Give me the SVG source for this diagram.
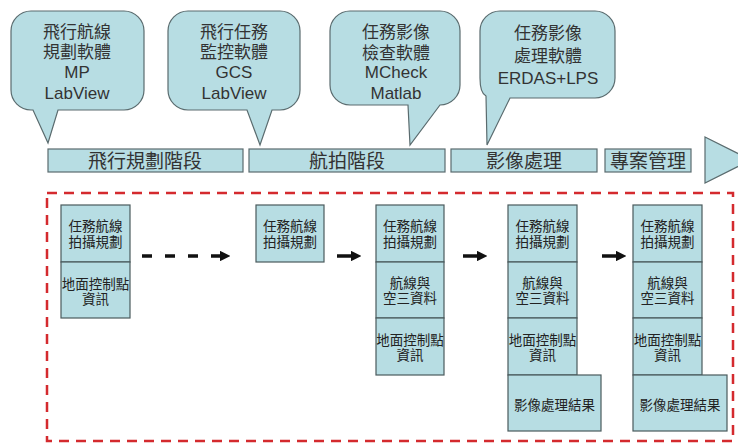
<svg xmlns="http://www.w3.org/2000/svg" width="738" height="443" viewBox="0 0 738 443">
<style>
.bub{fill:#b7dde3;stroke:#5a6b6e;stroke-width:1.2}
.bar{fill:#b7dde3;stroke:#5a6b6e;stroke-width:1.2}
.box{fill:#b7dde3;stroke:#4a5a5c;stroke-width:1.2}
.t{font-family:"Liberation Sans","Noto Sans CJK TC",sans-serif;fill:#2a2a2a;text-anchor:middle}
.ct{font-size:17px;fill:#333}
.pt{font-size:19px;fill:#333}
.st{font-size:13.5px;fill:#222}
.arr{stroke:#111;stroke-width:3.5;fill:none}
</style>
<defs>
<marker id="ah" viewBox="0 0 10 10" refX="2" refY="5" markerWidth="3" markerHeight="3" orient="auto" markerUnits="strokeWidth">
<path d="M0,0 L10,5 L0,10 Z" fill="#111"/>
</marker>
</defs>
<rect width="738" height="443" fill="#ffffff"/>

<g id="callout1">
<path class="bub" d="M31,11 H124 A20,20 0 0 1 144,31 V90 A20,20 0 0 1 124,110 H58 L48,143 L33,110 H31 A20,20 0 0 1 11,90 V31 A20,20 0 0 1 31,11 Z"/>
<text class="t ct" x="77" y="38">飛行航線</text>
<text class="t ct" x="77" y="58">規劃軟體</text>
<text class="t ct" x="77" y="78">MP</text>
<text class="t ct" x="77" y="99">LabView</text>
</g>
<g id="callout2">
<path class="bub" d="M188,11 H280 A20,20 0 0 1 300,31 V90 A20,20 0 0 1 280,110 H272 L260,145 L247,110 H188 A20,20 0 0 1 168,90 V31 A20,20 0 0 1 188,11 Z"/>
<text class="t ct" x="234" y="38">飛行任務</text>
<text class="t ct" x="234" y="58">監控軟體</text>
<text class="t ct" x="234" y="78">GCS</text>
<text class="t ct" x="234" y="99">LabView</text>
</g>
<g id="callout3">
<path class="bub" d="M350,11 H440 A20,20 0 0 1 460,31 V85 A20,20 0 0 1 440,105 L410,145 L408,105 H350 A20,20 0 0 1 330,85 V31 A20,20 0 0 1 350,11 Z"/>
<text class="t ct" x="396" y="38">任務影像</text>
<text class="t ct" x="396" y="59">檢查軟體</text>
<text class="t ct" x="396" y="78">MCheck</text>
<text class="t ct" x="396" y="99">Matlab</text>
</g>
<g id="callout4">
<path class="bub" d="M500,11 H595 A20,20 0 0 1 615,31 V78 A20,20 0 0 1 595,98 H510 L487,145 L486,96 Q480,93 480,78 V31 A20,20 0 0 1 500,11 Z"/>
<text class="t ct" x="548" y="39">任務影像</text>
<text class="t ct" x="548" y="62">處理軟體</text>
<text class="t ct" x="548" y="84">ERDAS+LPS</text>
</g>

<g id="phase1"><rect class="bar" x="48" y="149" width="195" height="23"/><text class="t pt" x="145" y="168">飛行規劃階段</text></g>
<g id="phase2"><rect class="bar" x="249" y="149" width="196" height="23"/><text class="t pt" x="347" y="168">航拍階段</text></g>
<g id="phase3"><rect class="bar" x="451" y="149" width="146" height="23"/><text class="t pt" x="524" y="168">影像處理</text></g>
<g id="phase4"><rect class="bar" x="605" y="149" width="86" height="23"/><text class="t pt" x="648" y="168">專案管理</text></g>
<g id="timeline-arrow"><polygon class="bar" points="705,137 751,160 705,183"/></g>

<g id="frame"><rect x="47" y="193" width="686" height="248" fill="none" stroke="#d42a2e" stroke-width="2.5" stroke-dasharray="10 7"/></g>

<g id="col1">
<rect class="box" x="61" y="205" width="69" height="57"/>
<text class="t st" x="95.5" y="231">任務航線</text><text class="t st" x="95.5" y="247">拍攝規劃</text>
<rect class="box" x="61" y="262" width="69" height="56"/>
<text class="t st" x="95.5" y="289">地面控制點</text><text class="t st" x="95.5" y="304">資訊</text>
</g>
<g id="col2">
<rect class="box" x="256" y="205" width="68" height="57"/>
<text class="t st" x="290" y="231">任務航線</text><text class="t st" x="290" y="247">拍攝規劃</text>
</g>
<g id="col3">
<rect class="box" x="376" y="205" width="68" height="57"/>
<text class="t st" x="410" y="231">任務航線</text><text class="t st" x="410" y="247">拍攝規劃</text>
<rect class="box" x="376" y="262" width="68" height="56"/>
<text class="t st" x="410" y="288">航線與</text><text class="t st" x="410" y="303">空三資料</text>
<rect class="box" x="376" y="318" width="68" height="57"/>
<text class="t st" x="410" y="345">地面控制點</text><text class="t st" x="410" y="360">資訊</text>
</g>
<g id="col4">
<rect class="box" x="508" y="205" width="69" height="57"/>
<text class="t st" x="542.5" y="231">任務航線</text><text class="t st" x="542.5" y="247">拍攝規劃</text>
<rect class="box" x="508" y="262" width="69" height="56"/>
<text class="t st" x="542.5" y="288">航線與</text><text class="t st" x="542.5" y="303">空三資料</text>
<rect class="box" x="508" y="318" width="69" height="57"/>
<text class="t st" x="542.5" y="345">地面控制點</text><text class="t st" x="542.5" y="360">資訊</text>
<rect class="box" x="508" y="375" width="93" height="56"/>
<text class="t st" x="554.5" y="410">影像處理結果</text>
</g>
<g id="col5">
<rect class="box" x="633" y="205" width="69" height="57"/>
<text class="t st" x="667.5" y="231">任務航線</text><text class="t st" x="667.5" y="247">拍攝規劃</text>
<rect class="box" x="633" y="262" width="69" height="56"/>
<text class="t st" x="667.5" y="288">航線與</text><text class="t st" x="667.5" y="303">空三資料</text>
<rect class="box" x="633" y="318" width="69" height="57"/>
<text class="t st" x="667.5" y="345">地面控制點</text><text class="t st" x="667.5" y="360">資訊</text>
<rect class="box" x="633" y="375" width="94" height="56"/>
<text class="t st" x="680" y="410">影像處理結果</text>
</g>

<g id="connectors">
<line class="arr" x1="142" y1="256" x2="222" y2="256" stroke-dasharray="10 13" marker-end="url(#ah)"/>
<line class="arr" x1="337" y1="256" x2="353" y2="256" marker-end="url(#ah)"/>
<line class="arr" x1="463" y1="256" x2="479" y2="256" marker-end="url(#ah)"/>
<line class="arr" x1="602" y1="256" x2="618" y2="256" marker-end="url(#ah)"/>
</g>
</svg>
